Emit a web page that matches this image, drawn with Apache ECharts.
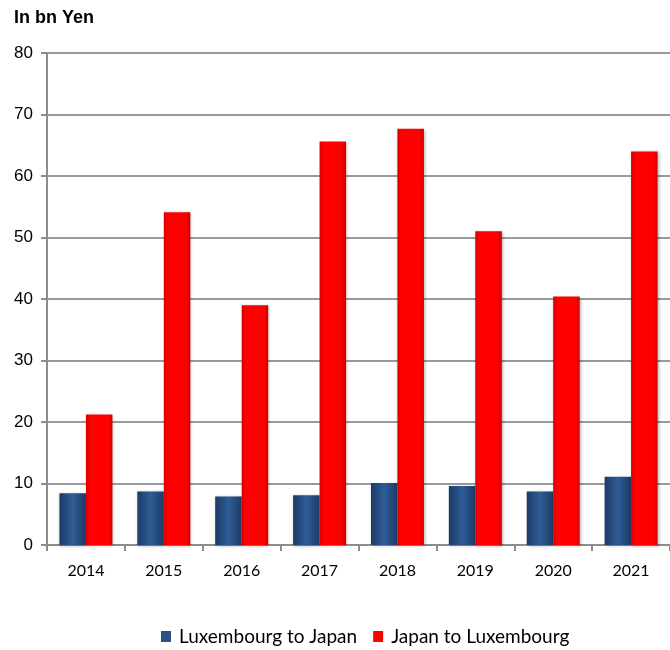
<!DOCTYPE html>
<html><head><meta charset="utf-8">
<script src="https://cdn.jsdelivr.net/npm/echarts@6/dist/echarts.min.js"></script>
<style>html,body{margin:0;padding:0;background:#fff}#c{width:670px;height:650px}</style>
</head><body><div id="c"></div>
<script>
const categories = ['2014','2015','2016','2017','2018','2019','2020','2021'];
const luxToJapan = [8.4, 8.7, 7.9, 8.1, 10.1, 9.6, 8.7, 11.1];
const japanToLux = [21.2, 54.1, 39.0, 65.6, 67.7, 51.0, 40.4, 64.0];
const yTicks = [0, 10, 20, 30, 40, 50, 60, 70, 80];

const chart = echarts.init(document.getElementById('c'));
const blueGrad = new echarts.graphic.LinearGradient(0,0,1,0,[
  {offset:0,color:'#1c3a66'},{offset:0.5,color:'#2f5d96'},{offset:1,color:'#1c3a66'}]);
const redGrad = new echarts.graphic.LinearGradient(0,0,1,0,[
  {offset:0,color:'#d40000'},{offset:0.15,color:'#ff0000'},{offset:0.85,color:'#ff0000'},{offset:1,color:'#c80000'}]);
chart.setOption({
  animation:false,
  title:{text:'In bn Yen',left:9,top:4,textStyle:{fontFamily:'Liberation Sans',fontWeight:'bold',fontSize:18,color:'#000'}},
  grid:{left:47,right:0,top:53,bottom:105},
  legend:{top:622,left:156,itemWidth:10,itemHeight:11,itemGap:16,
    textStyle:{fontFamily:'Lato',fontSize:19,color:'#000',padding:[0,0,0,3]},
    data:[{name:'Luxembourg to Japan',icon:'rect',itemStyle:{color:'#2a5285'}},{name:'Japan to Luxembourg',icon:'rect',itemStyle:{color:'#ff0000'}}]},
  xAxis:{type:'category',data:categories,
    axisLine:{lineStyle:{color:'#8c8c8c',width:2}},
    axisTick:{show:true,length:6,lineStyle:{color:'#8c8c8c',width:2}},
    axisLabel:{fontFamily:'Lato',fontSize:16,color:'#000',margin:18}},
  yAxis:{type:'value',min:0,max:80,interval:10,
    axisLine:{show:true,lineStyle:{color:'#8c8c8c',width:2}},
    axisTick:{show:true,length:6,lineStyle:{color:'#8c8c8c',width:2}},
    splitLine:{lineStyle:{color:'#9a9a9a',width:2}},
    axisLabel:{fontFamily:'Liberation Sans',fontSize:17,color:'#000',margin:14,
      formatter:v=>yTicks.includes(v)?String(v):''}},
  series:[
    {name:'Luxembourg to Japan',type:'bar',data:luxToJapan,barGap:'0%',barCategoryGap:'32%',
      itemStyle:{color:blueGrad,shadowColor:'rgba(0,0,0,0.3)',shadowBlur:3,shadowOffsetX:1,shadowOffsetY:1}},
    {name:'Japan to Luxembourg',type:'bar',data:japanToLux,barGap:'0%',barCategoryGap:'32%',
      itemStyle:{color:redGrad,shadowColor:'rgba(0,0,0,0.3)',shadowBlur:3,shadowOffsetX:1,shadowOffsetY:1}}
  ]
});
</script></body></html>
